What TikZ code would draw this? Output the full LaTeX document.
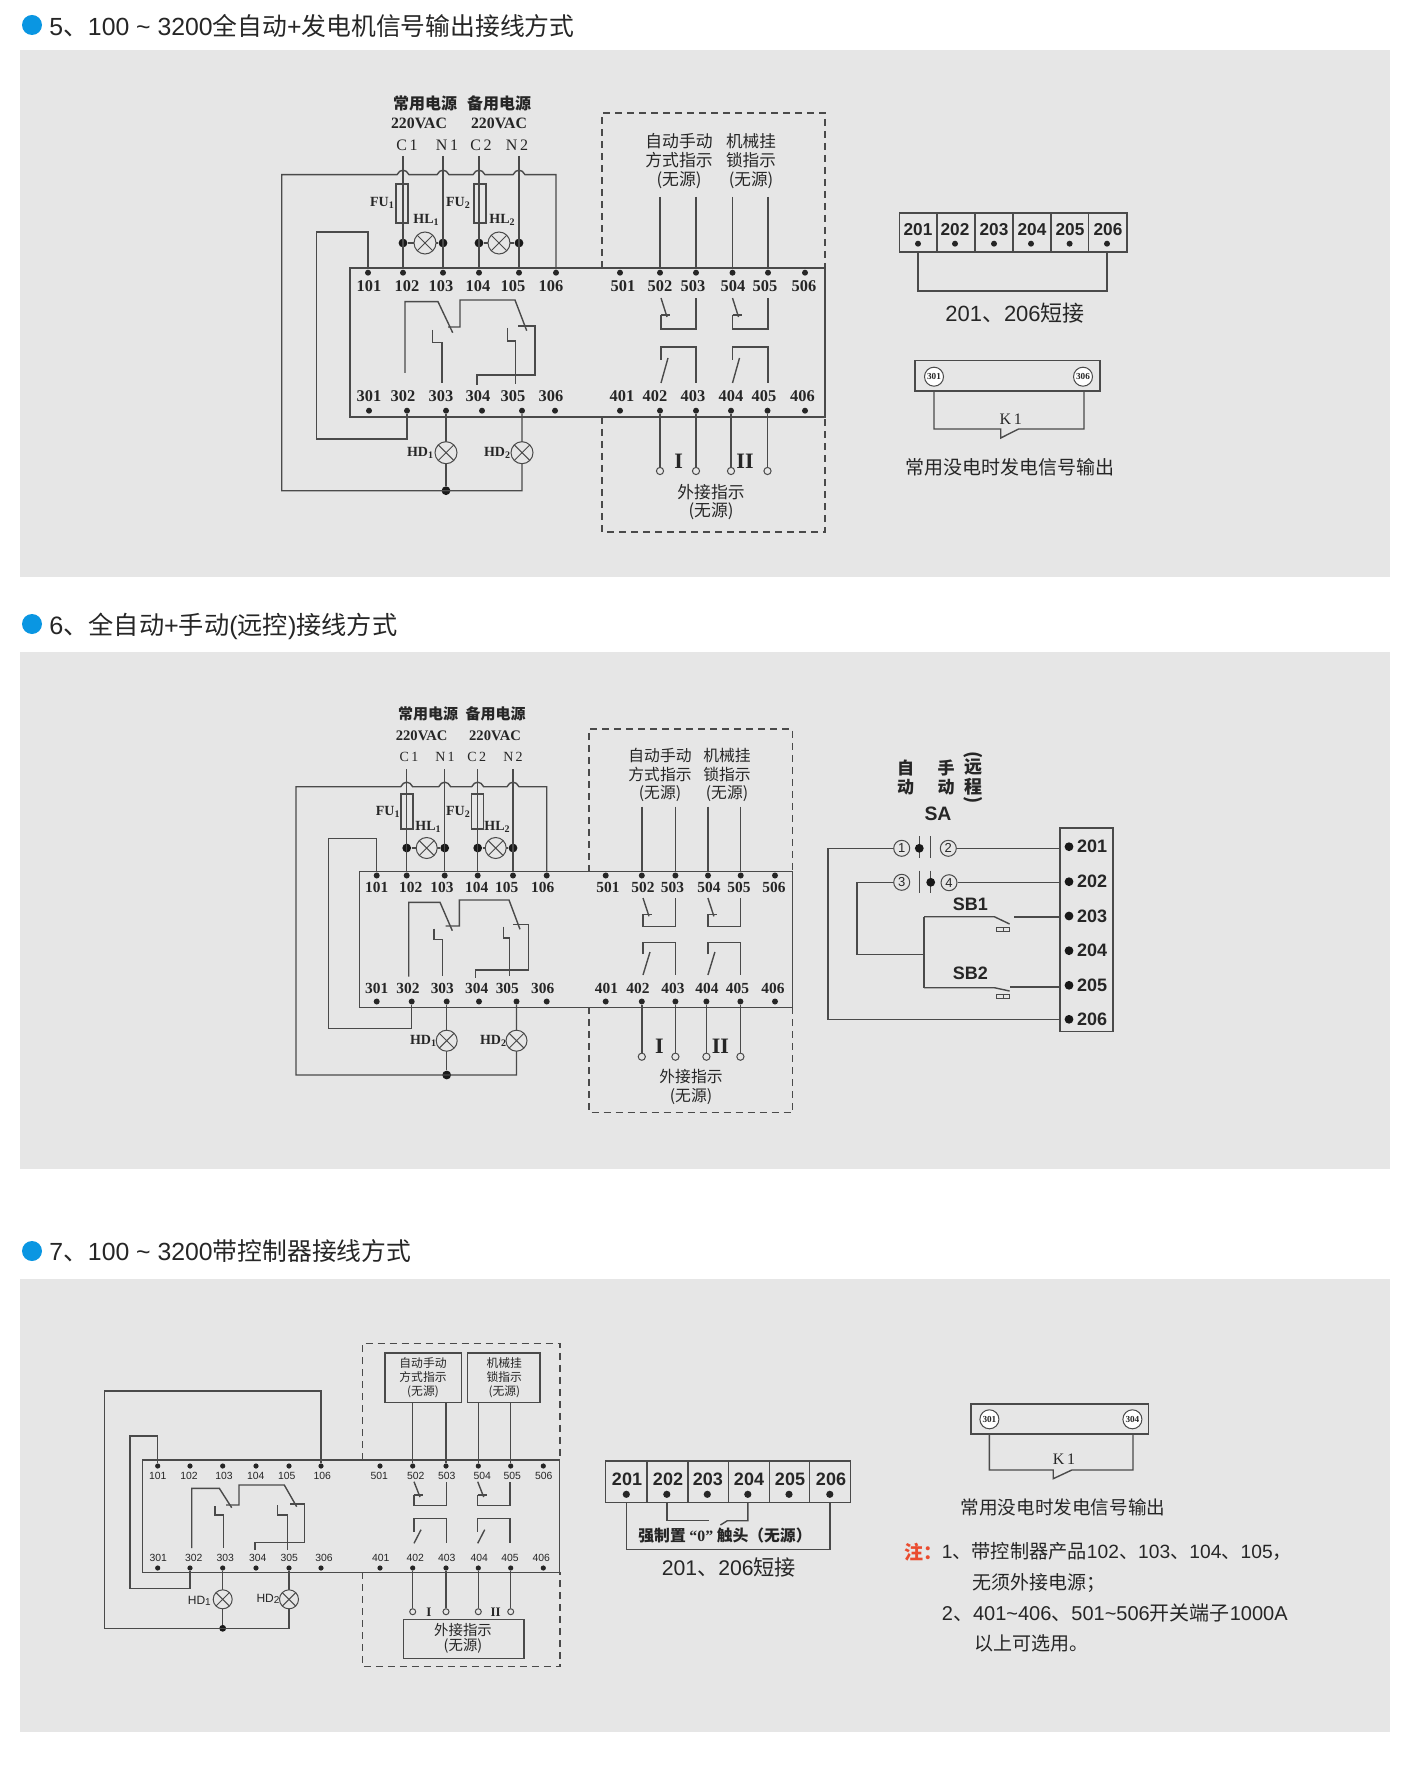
\documentclass[tikz,border=0pt]{standalone}
\usepackage{fontspec}
\setmainfont{Liberation Sans}
\newfontfamily\cjk{Noto Sans CJK SC}
\newfontfamily\rom{Liberation Serif}
\usetikzlibrary{positioning}
\definecolor{panelgray}{HTML}{E6E6E6}
\definecolor{wiregray}{HTML}{4A4A4A}
\definecolor{inkgray}{HTML}{262626}
\definecolor{bulletblue}{HTML}{0A96E2}
\definecolor{notered}{HTML}{EA4B2E}
\newcommand{\fsz}[1]{\fontsize{#1}{#1}\selectfont}
\newcommand{\subn}[1]{\raisebox{-0.8pt}{\fsz{5}#1}}
\newcommand{\hopat}[2]{-- ({#1+6},#2) .. controls ({#1+3},{#2-6}) and ({#1-3},{#2-6}) .. ({#1-6},#2)}
% contacts of the indicator terminals
\newcommand{\nccontact}[5]{\draw[wire] (#1,#3) -- ({#1+6},{#4+2}); \draw[wire] (#1,#4) -- ({#1+9},#4); \draw[wire] (#1,#4) -- (#1,#5) -- (#2,#5) -- (#2,#3);}
\newcommand{\nocontact}[5]{\draw[wire] (#1,#4) -- (#1,#3) -- (#2,#3) -- (#2,#5); \draw[wire] (#1,#5) -- ({#1+7},{#4-2});}
\tikzset{
	wire/.style={draw=wiregray, line width=0.7pt},
	dashbox/.style={draw=wiregray, line width=0.7pt, dash pattern=on 3.5pt off 2.5pt},
	dot/.style={circle, fill=black!85, inner sep=0pt, minimum size=3pt},
	bigdot/.style={circle, fill=black!90, inner sep=0pt, minimum size=4.4pt},
	hollow/.style={circle, draw=wiregray, fill=panelgray, line width=0.5pt, inner sep=0pt, minimum size=3.6pt},
	lamp/.style={circle, draw=wiregray, fill=panelgray, line width=0.5pt, inner sep=0pt, minimum size=#1,
		path picture={\draw[wiregray, line width=0.5pt] (path picture bounding box.north west) -- (path picture bounding box.south east) (path picture bounding box.north east) -- (path picture bounding box.south west);}},
	txt/.style={inner sep=0pt, text=inkgray},
	term/.style={txt, font=\rom\bfseries\fsz{8.2}},
	termb/.style={txt, font=\rom\bfseries\fsz{7.7}},
	termc/.style={txt, font=\fsz{5.2}},
	stripnum/.style={txt, font=\bfseries\fsz{8.6}},
	zh/.style={txt, align=center, font=\cjk\fontsize{#1}{9.4}\selectfont},
	zhbold/.style={txt, align=center, font=\cjk\bfseries\fsz{#1}},
	title/.style={txt, anchor=west, font=\fsz{12.4}},
	circnum/.style={circle, draw=wiregray, fill=white, line width=0.5pt, inner sep=0pt, minimum size=9.5pt, text=inkgray, font=\rom\bfseries\fsz{4.6}},
	swnum/.style={circle, draw=wiregray, line width=0.5pt, inner sep=0pt, minimum size=8pt, text=inkgray, font=\fsz{6.5}}
}
\begin{document}
\begin{tikzpicture}[x=0.5pt, y=-0.5pt]
	\useasboundingbox (0,0) rectangle (1414,1770);
	\fill[white] (0,0) rectangle (1414,1770);
	\foreach \top/\bot in {50/577, 652/1169, 1279/1732}
	\fill[panelgray] (19.5,\top) rectangle (1389.5,\bot);

	% titles
	\foreach \n/\y in {1/25, 2/624, 3/1251}
	\fill[bulletblue] (32,\y) circle (10);
	\node[title] (tta) at (49,26) {5{\cjk 、}100 \textasciitilde{} 3200{\cjk 全自动}+{\cjk 发电机信号输出接线方式}};
	\node[title, font=\fsz{12.6}] (ttb) at (49,626) {6{\cjk 、全自动}+{\cjk 手动}({\cjk 远控}){\cjk 接线方式}};
	\node[title] (ttc) at (49,1251) {7{\cjk 、}100 \textasciitilde{} 3200{\cjk 带控制器接线方式}};

	%%% section 5
	\draw[wire] (350,268) rectangle (825,417);
	\draw[dashbox] (602,268) |- (825,113) -- (825,268);
	\draw[dashbox] (602,417) |- (825,532) -- (825,417);
	\foreach \n/\x/\lx in {101/368/369,102/403/407,103/443/441,104/479/478,105/519/513,106/556/551,501/620/623,502/660/660,503/696/693,504/732.5/733,505/768/765,506/805/804} {
		\node[dot] (a\n) at (\x,272.7) {};
		\node[term] (la\n) at (\lx,285.7) {\n};
	}
	\foreach \n/\x/\lx in {301/369/369,302/407/403,303/446/441,304/482/478,305/522/513,306/555/551,401/620/622,402/660/655,403/696/693,404/731/731,405/767.5/764,406/805/802.5} {
		\node[dot] (a\n) at (\x,410.7) {};
		\node[term] (la\n) at (\lx,396) {\n};
	}
	\node[zhbold=8] (amain) at (425,103) {常用电源};
	\node[zhbold=8] (aback) at (499,103) {备用电源};
	\node[txt, font=\rom\bfseries\fsz{7.9}] (avaca) at (419,123) {220VAC};
	\node[txt, font=\rom\bfseries\fsz{7.9}] (avacb) at (499,123) {220VAC};
	\foreach \n/\t/\x/\lx in {Ca/C\,1/403/407,Na/N\,1/443/447,Cb/C\,2/479/481,Nb/N\,2/519/517} {
		\coordinate (a\n) at (\x,156);
		\node[txt, font=\rom\fsz{8}] (la\n) at (\lx,145) {\t};
	}
	\node[bigdot] (aHa) at (403,243) {};
	\node[bigdot] (aHb) at (443,243) {};
	\node[bigdot] (aHc) at (479,243) {};
	\node[bigdot] (aHd) at (519,243) {};
	\node[bigdot] (ajoin) at (446,490.7) {};
	\draw[wire] (aCa) -- (a102);
	\draw[wire] (aNa) -- (a103);
	\draw[wire] (aCb) -- (a104);
	\draw[wire] (aNb) -- (a105);
	\draw[wire] (aHa) -- (aHb);
	\draw[wire] (aHc) -- (aHd);
	\draw[wire] (a106) -- (556,174.7) \hopat{519}{174.7} \hopat{479}{174.7} \hopat{443}{174.7} \hopat{403}{174.7} -- (281.7,174.7) -- (281.7,490.7) -| (a305);
	\draw[wire] (a303) -- (ajoin);
	\draw[wire] (a101) |- (316.7,232) -- (316.7,439) -| (a302);
	% changeover contacts
	\draw[wire] (405,373) |- (438,301.7) -- (452.7,332.7);
	\draw[wire] (448,327) -- (460,327) |- (515,300) -- (526.7,330.7);
	\draw[wire] (518,326) -- (535,326) |- (477,375) -- (477,385);
	\draw[wire] (432.3,330) |- (442,342.7) -- (442,383);
	\draw[wire] (507.7,328) |- (515.7,341) -- (515.7,384);
	\foreach \l/\r in {661/696, 732.5/768} {
		\nccontact{\l}{\r}{298}{315}{329}
		\nocontact{\l}{\r}{347}{360}{383}
	}
	\draw[wire] (396,184) rectangle (408,223);
	\draw[wire] (474,184) rectangle (486,223);
	\node[lamp=11pt] (aHLa) at (425,243) {};
	\node[lamp=11pt] (aHLb) at (499,243) {};
	\node[lamp=11pt] (aHDa) at (446,452.7) {};
	\node[lamp=11pt] (aHDb) at (522,452.7) {};
	\node[txt, font=\rom\bfseries\fsz{7}] (lFUa) at (382,203) {FU\subn{1}};
	\node[txt, font=\rom\bfseries\fsz{7}] (lFUb) at (458,203) {FU\subn{2}};
	\node[txt, font=\rom\bfseries\fsz{7}] (lHLa) at (426,220) {HL\subn{1}};
	\node[txt, font=\rom\bfseries\fsz{7}] (lHLb) at (502,220) {HL\subn{2}};
	\node[txt, font=\rom\bfseries\fsz{7}] (lHDa) at (420,453) {HD\subn{1}};
	\node[txt, font=\rom\bfseries\fsz{7}] (lHDb) at (497,453) {HD\subn{2}};
	% indicators
	\foreach \n/\x in {502/660, 503/696, 504/732.5, 505/768}
	\draw[wire] (\x,197) -- (a\n);
	\foreach \n/\m in {402/ha, 403/hb, 404/hc, 405/hd} {
		\path (a\n) -- ++(0,60.3) node[hollow] (a\m) {};
		\draw[wire] (a\n) -- (a\m);
	}
	\node[txt, font=\rom\bfseries\fsz{11}] (aI) at (678.6,461) {I};
	\node[txt, font=\rom\bfseries\fsz{11}] (aII) at (745,461) {II};
	\node[zh=8.4] (aauto) at (679,161) {自动手动\\方式指示\\(无源)};
	\node[zh=8.3] (alock) at (751,161) {机械挂\\锁指示\\(无源)};
	\node[zh=8.4] (aext) at (711,502) {外接指示\\(无源)};
	% strip 201..206
	\draw[wire] (899.6,213) rectangle (1127,252);
	\foreach \x in {937,975,1013,1051,1088.6}
	\draw[wire] (\x,213) -- (\x,252);
	\foreach \n/\x/\lx in {201/918/918,202/955/955,203/994/994,204/1031/1032,205/1069.6/1070,206/1107/1108} {
		\node[dot] (s\n) at (\x,243.7) {};
		\node[stripnum] (ls\n) at (\lx,230) {\n};
		\coordinate (q\n) at (\x,252);
	}
	\draw[wire] (q201) |- (1000,291) -| (q206);
	\node[txt, font=\fsz{11}] (ashort) at (1015,313) {201{\cjk 、}206{\cjk 短接}};
	% K1 output
	\draw[wire] (915,360.7) rectangle (1100,391);
	\node[circnum] (k301) at (934,376.7) {301};
	\node[circnum] (k306) at (1083,376.7) {306};
	\draw[wire] (934,391) |- (1000.7,429) -- (1000.7,438) -- (1018.6,429) -| (1084,391);
	\node[txt, font=\rom\fsz{8}] (lk) at (1010.7,419) {K\,1};
	\node[zh=9.5] (aoutput) at (1010,467) {常用没电时发电信号输出};

	%%% section 6
	\draw[wire] (359.3,871.7) rectangle (792.5,1007.3);
	\draw[dashbox] (589,871.7) |- (792.5,729) -- (792.5,871.7);
	\draw[dashbox] (589,1007.3) |- (792.5,1112.7) -- (792.5,1007.3);
	\foreach \n/\x/\lx in {101/376.7/376.7,102/406.7/410.7,103/444.7/442,104/477.7/476.7,105/513/506.7,106/546.7/542.7,501/605.7/608,502/641.8/643,503/675.4/672.5,504/708/709,505/740.7/739,506/775/774} {
		\node[dot] (b\n) at (\x,875.5) {};
		\node[termb] (lb\n) at (\lx,887) {\n};
	}
	\foreach \n/\x/\lx in {301/376.7/376.7,302/411.7/408,303/446.7/442.3,304/479/476.7,305/516.5/507.3,306/546.7/542.7,401/605.7/606.4,402/641.8/638,403/675.4/673,404/706.4/707,405/740.4/737.5,406/775/773} {
		\node[dot] (b\n) at (\x,1001.5) {};
		\node[termb] (lb\n) at (\lx,988) {\n};
	}
	\node[zhbold=7.5] (bmain) at (428,714) {常用电源};
	\node[zhbold=7.5] (bback) at (495.7,714) {备用电源};
	\node[txt, font=\rom\bfseries\fsz{7.3}] (bvaca) at (421.7,736) {220VAC};
	\node[txt, font=\rom\bfseries\fsz{7.3}] (bvacb) at (495,736) {220VAC};
	\foreach \n/\t/\x/\lx in {Ca/C\,1/406.7/409,Na/N\,1/444.7/445,Cb/C\,2/477.7/476.7,Nb/N\,2/513/513} {
		\coordinate (b\n) at (\x,769);
		\node[txt, font=\rom\fsz{7}] (lb\n) at (\lx,757) {\t};
	}
	\node[bigdot] (bHa) at (406.7,848) {};
	\node[bigdot] (bHb) at (444.7,848) {};
	\node[bigdot] (bHc) at (477.7,848) {};
	\node[bigdot] (bHd) at (513,848) {};
	\node[bigdot] (bjoin) at (446.7,1075) {};
	\draw[wire] (bCa) -- (b102);
	\draw[wire] (bNa) -- (b103);
	\draw[wire] (bCb) -- (b104);
	\draw[wire] (bNb) -- (b105);
	\draw[wire] (bHa) -- (bHb);
	\draw[wire] (bHc) -- (bHd);
	\draw[wire] (b106) -- (546.7,786.7) \hopat{513}{786.7} \hopat{477.7}{786.7} \hopat{444.7}{786.7} \hopat{406.7}{786.7} -- (296,786.7) -- (296,1075) -| (b305);
	\draw[wire] (b303) -- (bjoin);
	\draw[wire] (b101) |- (328.7,838.7) -- (328.7,1028.3) -| (b302);
	\draw[wire] (408.7,976.7) |- (440,902.3) -- (452.3,930.7);
	\draw[wire] (445.7,926) -- (459.3,926) |- (509,900) -- (520,929.3);
	\draw[wire] (513.3,924.7) -- (528.7,924.7) |- (475.3,970) -- (475.3,978.3);
	\draw[wire] (434,928.7) |- (442.7,939.3) -- (442.7,976);
	\draw[wire] (503.7,926.7) |- (509.3,938) -- (509.3,976);
	\foreach \l/\r in {643/675.7, 707.9/740.7} {
		\nccontact{\l}{\r}{898}{914.3}{926.7}
		\nocontact{\l}{\r}{942.3}{954}{975}
	}
	\draw[wire] (401,794) rectangle (413,829);
	\draw[wire] (471.7,794) rectangle (483.3,829);
	\node[lamp=10.5pt] (bHLa) at (426.7,848) {};
	\node[lamp=10.5pt] (bHLb) at (495.7,848) {};
	\node[lamp=10.5pt] (bHDa) at (446.7,1040.7) {};
	\node[lamp=10.5pt] (bHDb) at (516.5,1040.7) {};
	\node[txt, font=\rom\bfseries\fsz{7}] (mFUa) at (387.7,811.7) {FU\subn{1}};
	\node[txt, font=\rom\bfseries\fsz{7}] (mFUb) at (458,811.7) {FU\subn{2}};
	\node[txt, font=\rom\bfseries\fsz{7}] (mHLa) at (428,826.7) {HL\subn{1}};
	\node[txt, font=\rom\bfseries\fsz{7}] (mHLb) at (497,826.7) {HL\subn{2}};
	\node[txt, font=\rom\bfseries\fsz{7}] (mHDa) at (423,1040.7) {HD\subn{1}};
	\node[txt, font=\rom\bfseries\fsz{7}] (mHDb) at (493,1040.7) {HD\subn{2}};
	\foreach \n/\x in {502/641.8, 503/675.4, 504/708, 505/740.7}
	\draw[wire] (\x,806.7) -- (b\n);
	\foreach \n/\m in {402/ha, 403/hb, 404/hc, 405/hd} {
		\path (b\n) -- ++(0,55.2) node[hollow] (b\m) {};
		\draw[wire] (b\n) -- (b\m);
	}
	\node[txt, font=\rom\bfseries\fsz{11}] (bI) at (659.3,1046.7) {I};
	\node[txt, font=\rom\bfseries\fsz{11}] (bII) at (720.4,1046.7) {II};
	\node[zh=7.9] (bauto) at (660,775) {自动手动\\方式指示\\(无源)};
	\node[zh=7.9] (block) at (727,775) {机械挂\\锁指示\\(无源)};
	\node[zh=7.9] (bext) at (691,1087) {外接指示\\(无源)};
	% switch SA
	\node[zhbold=8.5] (sza) at (905.7,768) {自};
	\node[zhbold=8.5] (szb) at (905.7,787) {动};
	\node[zhbold=8.5] (szc) at (946,768) {手};
	\node[zhbold=8.5] (szd) at (946,787) {动};
	\node[zhbold=9, rotate=-90] (sze) at (973,755.5) {(};
	\node[zhbold=9] (szf) at (973,767) {远};
	\node[zhbold=9] (szg) at (973,787) {程};
	\node[zhbold=9, rotate=-90] (szh) at (973,800) {)};
	\node[txt, font=\bfseries\fsz{9.7}] (lSA) at (938,814) {SA};
	\draw[wire] (1060,828) rectangle (1113,1031.7);
	\foreach \n/\y/\ey in {201/846.7/848.3, 202/881.7/882.7, 203/916/917, 204/950.7/950.7, 205/985.3/987, 206/1019.3/1019.3} {
		\node[bigdot] (t\n) at (1069,\y) {};
		\node[txt, font=\bfseries\fsz{9}] (lt\n) at (1092,\y) {\n};
		\coordinate (e\n) at (1060,\ey);
	}
	\node[swnum] (sw1) at (901.7,848.3) {1};
	\node[swnum] (sw2) at (948.3,848.3) {2};
	\node[swnum] (sw3) at (901.7,882.3) {3};
	\node[swnum] (sw4) at (949,882.7) {4};
	\draw[wire] (sw2) -- (e201);
	\draw[wire] (sw4) -- (e202);
	\draw[wire] (sw1) -- (828,848.3) |- (e206);
	\draw[wire] (sw3) -- (857,882.3) |- (924,954.3);
	\draw[wire] (924,916.7) -- (924,987.7);
	\draw[wire] (919.3,836) -- (919.3,858);
	\draw[wire] (930.7,836) -- (930.7,858);
	\draw[wire] (919.3,870.7) -- (919.3,892.7);
	\draw[wire] (930.7,870.7) -- (930.7,892.7);
	\node[bigdot] (swa) at (919.3,848.3) {};
	\node[bigdot] (swb) at (930.7,882.3) {};
	\draw[wire] (924,916.7) -- (994.3,916.7) -- (1009.6,924);
	\draw[wire] (1014,917) -- (e203);
	\draw[wire] (924,987.7) -- (994.3,987.7) -- (1009.6,991);
	\draw[wire] (1010.4,987) -- (e205);
	\foreach \y in {927, 994} {
		\draw[wire, line width=0.5pt] (996.8,\y) rectangle (1009.6,\y+4);
		\draw[wire, line width=0.5pt] (1003.2,\y) -- (1003.2,\y+4);
	}
	\node[txt, font=\bfseries\fsz{9}] (lSBa) at (970.4,904.3) {SB1};
	\node[txt, font=\bfseries\fsz{9}] (lSBb) at (970.4,973.3) {SB2};

	%%% section 7
	\draw[wire] (142.7,1460) rectangle (559.3,1572.3);
	\draw[dashbox] (362.3,1460) |- (560,1343.3) -- (560,1460);
	\draw[dashbox] (362.3,1572.3) |- (560,1666.7) -- (560,1572.3);
	\foreach \n/\x/\lx in {101/157.7/157.7,102/190/189,103/222.7/224,104/256/255.7,105/289/286.7,106/321/322.3,501/380/379.3,502/412.7/415.7,503/446/446.7,504/478.3/482.3,505/510.7/512.3,506/543.3/543.7} {
		\node[dot, minimum size=2.6pt] (c\n) at (\x,1466) {};
		\node[termc] (lc\n) at (\lx,1475.5) {\n};
	}
	\foreach \n/\x/\lx in {301/157.7/158.3,302/190/193.7,303/222.7/225.3,304/256/257.7,305/289/289.3,306/321/324,401/380/380.7,402/412.7/415.3,403/446/446.7,404/478.3/479.3,405/510.7/510,406/543.3/541.3} {
		\node[dot, minimum size=2.6pt] (c\n) at (\x,1568) {};
		\node[termc] (lc\n) at (\lx,1557.7) {\n};
	}
	\node[bigdot, minimum size=3.4pt] (cjoin) at (222.7,1628.3) {};
	\draw[wire] (c106) |- (104.3,1391) -- (104.3,1628.3) -| (c305);
	\draw[wire] (c303) -- (cjoin);
	\draw[wire] (c101) |- (130,1436) -- (130,1588.3) -| (c302);
	\draw[wire] (191.7,1548) |- (219.3,1488.3) -- (231.7,1507.7);
	\draw[wire] (226,1505) -- (239,1505) |- (284.3,1485) -- (296.7,1506.7);
	\draw[wire] (290,1504) -- (304.3,1504) |- (255,1542.3) -- (255,1550);
	\draw[wire] (215,1506) |- (223.3,1515) -- (223.3,1548);
	\draw[wire] (277.7,1505) |- (287.3,1515) -- (287.3,1550);
	\foreach \l/\r in {414/446.7, 477.7/510} {
		\nccontact{\l}{\r}{1481.7}{1495}{1505.7}
		\nocontact{\l}{\r}{1518.3}{1531.7}{1543.3}
	}
	\node[lamp=9.5pt] (cHDa) at (222.7,1599.3) {};
	\node[lamp=9.5pt] (cHDb) at (289,1599.3) {};
	\node[txt, font=\fsz{6}] (lHDc) at (199.3,1601) {HD\subn{1}};
	\node[txt, font=\fsz{6}] (lHDd) at (268,1599) {HD\subn{2}};
	\node[draw=wiregray, line width=0.8pt, minimum width=38.3pt, minimum height=24.8pt, inner sep=0pt] (cbauto) at (423.3,1377.5) {};
	\node[draw=wiregray, line width=0.8pt, minimum width=36.3pt, minimum height=24.8pt, inner sep=0pt] (cblock) at (503.7,1377.5) {};
	\node[draw=wiregray, line width=0.7pt, minimum width=60.3pt, minimum height=19.5pt, inner sep=0pt] (cbext) at (463.7,1638.8) {};
	\foreach \n/\x in {502/412.7, 503/446, 504/478.3, 505/510.7}
	\draw[wire] (\x,1402.3) -- (c\n);
	\foreach \n/\m in {402/ha, 403/hb, 404/hc, 405/hd} {
		\path (c\n) -- ++(0,43.7) node[hollow, minimum size=3pt] (c\m) {};
		\draw[wire] (c\n) -- (c\m);
	}
	\node[txt, font=\rom\bfseries\fsz{6.5}] (cI) at (429,1612.7) {I};
	\node[txt, font=\rom\bfseries\fsz{6.5}] (cII) at (495.7,1612.7) {II};
	\node[txt, align=center, font=\cjk\fontsize{5.9}{7.1}\selectfont] (cauto) at (423,1377.5) {自动手动\\方式指示\\(无源)};
	\node[txt, align=center, font=\cjk\fontsize{5.9}{7.1}\selectfont] (clock) at (504.3,1377.5) {机械挂\\锁指示\\(无源)};
	\node[txt, align=center, font=\cjk\fontsize{7.2}{7.4}\selectfont] (cext) at (463,1638.5) {外接指示\\(无源)};
	% strip 201..206, forced zero
	\draw[wire] (605.4,1461) rectangle (850.7,1502.7);
	\foreach \x in {646.8,687.8,728.7,769.7,809.7}
	\draw[wire] (\x,1461) -- (\x,1502.7);
	\foreach \n/\x/\lx in {201/626.3/627,202/666.8/668,203/707.3/707.8,204/747.8/749,205/789/790,206/829.8/831} {
		\node[dot, minimum size=3.6pt] (u\n) at (\x,1494.3) {};
		\node[txt, font=\bfseries\fsz{9}] (lu\n) at (\lx,1479.3) {\n};
		\coordinate (v\n) at (\x,1502.7);
	}
	\draw[wire] (v201) |- (730,1549.3) -| (v206);
	\draw[wire] (v202) |- (708.7,1520.7);
	\draw[wire] (720.4,1525) -- (727.3,1520.7) -| (v204);
	\node[zhbold=7.9] (czero) at (725,1535.7) {强制置 {\rom “0”} 触头（无源）};
	\node[txt, font=\fsz{10.6}] (cshort) at (729,1567.7) {201{\cjk 、}206{\cjk 短接}};
	% K1 output
	\draw[wire] (970.8,1404) rectangle (1148.7,1434);
	\node[circnum] (n301) at (989.4,1419.3) {301};
	\node[circnum] (n304) at (1132.4,1419.3) {304};
	\draw[wire] (989.4,1434) |- (1053.2,1470) -- (1053.2,1478.7) -- (1071.8,1470) -| (1133,1434);
	\node[txt, font=\rom\fsz{8}] (lk2) at (1064,1459.3) {K\,1};
	\node[zh=9.3] (coutput) at (1063,1507) {常用没电时发电信号输出};
	% notes
	\node[txt, anchor=west, text=notered, font=\cjk\bfseries\fsz{9.5}] (nza) at (904,1551.7) {注：};
	\node[txt, anchor=west, font=\fsz{9.6}] (nzb) at (941.5,1551.7) {1{\cjk 、带控制器产品}102{\cjk 、}103{\cjk 、}104{\cjk 、}105{\cjk ，}};
	\node[txt, anchor=west, font=\cjk\fsz{9.5}] (nzc) at (971.7,1582.7) {无须外接电源；};
	\node[txt, anchor=west, font=\fsz{10}] (nzd) at (941.5,1612.7) {2{\cjk 、}401\textasciitilde{}406{\cjk 、}501\textasciitilde{}506{\cjk 开关端子}1000A};
	\node[txt, anchor=west, font=\cjk\fsz{9.5}] (nze) at (974,1643) {以上可选用。};
\end{tikzpicture}
\end{document}
